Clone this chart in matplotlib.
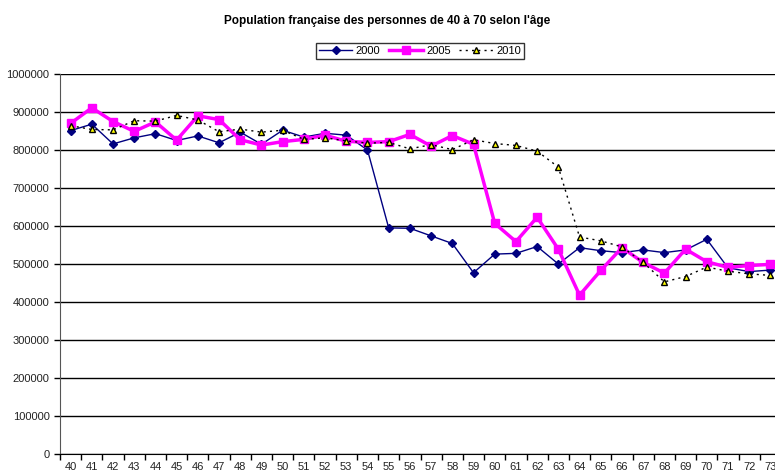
import matplotlib
matplotlib.use("Agg")
import matplotlib.pyplot as plt
import numpy as np

plt.rcParams['font.family'] = ['Liberation Sans', 'DejaVu Sans']

ages = list(range(40, 74))

pop_2000 = [851000, 868000, 816000, 832000, 843000, 825000, 837000, 819000, 847000, 815000,
            852000, 834000, 844000, 839000, 800000, 595000, 594000, 574000, 554000, 477000,
            526000, 528000, 546000, 500000, 543000, 535000, 530000, 537000, 530000, 537000,
            565000, 490000, 480000, 484000]

pop_2005 = [870000, 911000, 875000, 849000, 874000, 826000, 890000, 880000, 827000, 813000,
            822000, 828000, 839000, 823000, 820000, 822000, 841000, 810000, 838000, 815000,
            607000, 559000, 623000, 539000, 418000, 483000, 543000, 504000, 476000, 539000,
            506000, 491000, 496000, 499000]

pop_2010 = [864000, 854000, 853000, 877000, 876000, 891000, 879000, 848000, 855000, 847000,
            852000, 828000, 832000, 824000, 818000, 820000, 803000, 814000, 801000, 827000,
            817000, 812000, 797000, 755000, 571000, 561000, 545000, 504000, 453000, 467000,
            492000, 481000, 474000, 470000]

W, H = 775, 473
fig = plt.figure(figsize=(W / 100, H / 100), dpi=100)
ax = fig.add_axes([60 / W, 19 / H, 721 / W, 380 / H])

x = np.arange(len(ages))
ax.plot(x, pop_2000, color='#000080', lw=1, marker='D', ms=4,
        mfc='#000080', mec='#000080', label='2000', zorder=3)
ax.plot(x, pop_2005, color='#ff00ff', lw=2.5, marker='s', ms=6.3,
        mfc='#ff00ff', mec='#ff00ff', label='2005', zorder=4)
ax.plot(x, pop_2010, color='black', lw=1, ls=(0, (1.5, 3)), marker='^', ms=5,
        mfc='#ffff00', mec='black', mew=1, label='2010', zorder=5)

ax.set_xlim(-0.5, len(ages) - 0.5)
ax.set_ylim(0, 1000000)
ax.set_yticks(np.arange(0, 1000001, 100000))
ax.set_yticklabels([str(v) for v in range(0, 1000001, 100000)])
ax.yaxis.grid(True, color='black', lw=1)
ax.set_axisbelow(True)

ax.set_xticks(x)
ax.set_xticklabels([str(a) for a in ages])
ax.set_xticks(np.arange(-0.5, len(ages), 1), minor=True)
ax.tick_params(axis='x', which='major', length=0, pad=6, labelsize=8, labelcolor='#222222')
ax.tick_params(axis='x', which='minor', length=4, width=1, color='black')
ax.tick_params(axis='y', length=4, width=1, color='black', labelsize=8, labelcolor='#222222')

for s in ['top', 'right']:
    ax.spines[s].set_visible(False)
ax.spines['left'].set_color('#555555')
ax.spines['bottom'].set_color('black')

fig.text(0.5, 1 - 21 / H, "Population française des personnes de 40 à 70 selon l'âge",
         ha='center', va='center', fontsize=8.5, fontweight='bold')

leg = fig.legend(loc='center', bbox_to_anchor=(420 / W, 1 - 51 / H), ncol=3, fontsize=8,
                 frameon=True, fancybox=False, shadow=False, edgecolor='black',
                 handlelength=3, handletextpad=0.3, columnspacing=0.8,
                 borderpad=0.25, borderaxespad=0)
leg.get_frame().set_linewidth(1)

fig.savefig('out.png', dpi=100)
